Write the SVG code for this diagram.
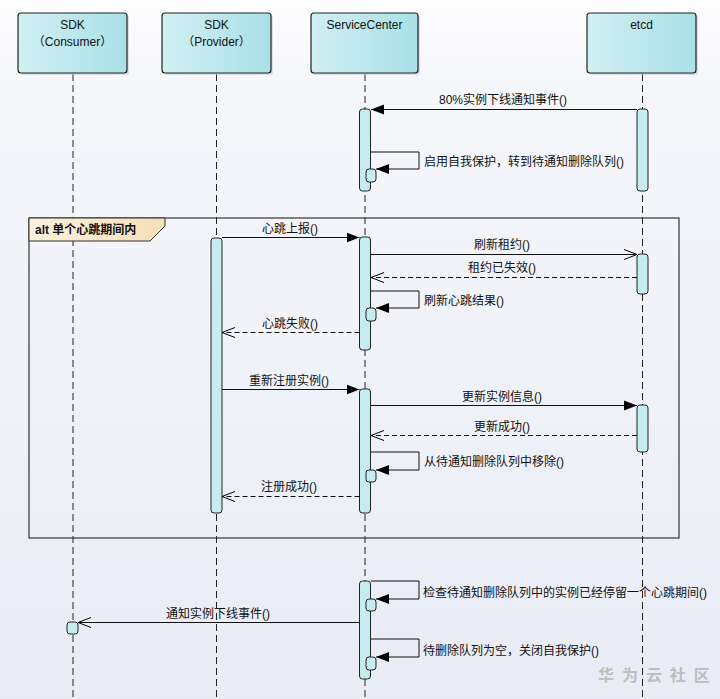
<svg xmlns="http://www.w3.org/2000/svg" width="720" height="699" viewBox="0 0 720 699">
<defs>
<linearGradient id="bg" x1="0" y1="0" x2="0" y2="1">
<stop offset="0" stop-color="#fdfdfe"/>
<stop offset="0.12" stop-color="#f6f7fb"/>
<stop offset="1" stop-color="#e9ecf5"/>
</linearGradient>
<linearGradient id="box" x1="0" y1="0" x2="1" y2="0">
<stop offset="0" stop-color="#d0eff2"/>
<stop offset="1" stop-color="#a9e0e8"/>
</linearGradient>
<linearGradient id="tag" x1="0" y1="0" x2="1" y2="0">
<stop offset="0" stop-color="#fbf1de"/>
<stop offset="1" stop-color="#f6dfb8"/>
</linearGradient>
<marker id="fill" markerWidth="14" markerHeight="12" refX="13" refY="6" orient="auto" markerUnits="userSpaceOnUse">
<path d="M0,1 L13,6 L0,11 Z" fill="#000"/>
</marker>
<marker id="open" markerWidth="14" markerHeight="12" refX="13" refY="6" orient="auto" markerUnits="userSpaceOnUse">
<path d="M0,1 L13,6 L0,11" fill="none" stroke="#000" stroke-width="1"/>
</marker>
</defs>
<style>
text{font-family:"Liberation Sans","Noto Sans CJK SC",sans-serif;font-size:12px;fill:#111}
.c{text-anchor:middle}
.node{fill:url(#box);stroke:#222;stroke-width:1.2}
.shadow{fill:#c8ccd6;opacity:0.6}
.life{stroke:#222;stroke-width:1;stroke-dasharray:7,4;fill:none}
.act{fill:#c6ecef;stroke:#222;stroke-width:1}
.msg{stroke:#111;stroke-width:1;fill:none}
.ret{stroke:#111;stroke-width:1;fill:none;stroke-dasharray:5,3}
.frame{fill:none;stroke:#333;stroke-width:1.2}
</style>
<rect x="0" y="0" width="720" height="699" fill="url(#bg)"/>

<g id="lifelines">
<line class="life" x1="73" y1="74" x2="73" y2="699"/>
<line class="life" x1="216.5" y1="74" x2="216.5" y2="699"/>
<line class="life" x1="365" y1="74" x2="365" y2="699"/>
<line class="life" x1="642.5" y1="74" x2="642.5" y2="699"/>
</g>

<g id="node-consumer">
<rect class="shadow" x="20" y="15" width="109" height="60" rx="3"/>
<rect class="node" x="18" y="13" width="109" height="60" rx="3"/>
<text class="c" x="72.5" y="29">SDK</text>
<text class="c" x="72.5" y="46">（Consumer）</text>
</g>
<g id="node-provider">
<rect class="shadow" x="164" y="15" width="109" height="60" rx="3"/>
<rect class="node" x="162" y="13" width="109" height="60" rx="3"/>
<text class="c" x="216.5" y="29">SDK</text>
<text class="c" x="216.5" y="46">（Provider）</text>
</g>
<g id="node-servicecenter">
<rect class="shadow" x="313" y="15" width="107" height="60" rx="3"/>
<rect class="node" x="311" y="13" width="107" height="60" rx="3"/>
<text class="c" x="364.5" y="29">ServiceCenter</text>
</g>
<g id="node-etcd">
<rect class="shadow" x="589" y="15" width="109" height="60" rx="3"/>
<rect class="node" x="587" y="13" width="109" height="60" rx="3"/>
<text class="c" x="641.5" y="29">etcd</text>
</g>

<g id="alt-frame">
<rect class="frame" x="29" y="218" width="650" height="320"/>
<path d="M29,218 L165,218 L165,226 L150,241 L29,241 Z" fill="url(#tag)" stroke="#333" stroke-width="1"/>
<text x="35" y="234" font-weight="bold">alt 单个心跳期间内</text>
</g>

<g id="activations">
<rect class="act" x="359.5" y="109" width="11" height="82" rx="3"/>
<rect class="act" x="637" y="109" width="11" height="82" rx="3"/>
<rect class="act" x="366" y="169" width="10" height="13" rx="3"/>

<rect class="act" x="211" y="238" width="11" height="275" rx="3"/>
<rect class="act" x="359.5" y="237" width="11" height="113" rx="3"/>
<rect class="act" x="637" y="254" width="11" height="40" rx="3"/>
<rect class="act" x="366" y="308" width="10" height="13" rx="3"/>

<rect class="act" x="359.5" y="389" width="11" height="124" rx="3"/>
<rect class="act" x="637" y="405" width="11" height="47" rx="3"/>
<rect class="act" x="366" y="470" width="10" height="12" rx="3"/>

<rect class="act" x="359.5" y="581" width="11" height="98" rx="3"/>
<rect class="act" x="366" y="599" width="10" height="12" rx="3"/>
<rect class="act" x="366" y="657" width="10" height="13" rx="3"/>
<rect class="act" x="67" y="622" width="11" height="12" rx="3"/>
</g>

<g id="connectors">
<line class="msg" x1="637" y1="109.5" x2="371" y2="109.5" marker-end="url(#fill)"/>
<polyline class="msg" points="371,152 419,152 419,169 376,169" marker-end="url(#fill)"/>

<line class="msg" x1="222" y1="237.5" x2="359.5" y2="237.5" marker-end="url(#fill)"/>
<line class="msg" x1="371" y1="254.5" x2="637" y2="254.5" marker-end="url(#open)"/>
<line class="ret" x1="637" y1="277.5" x2="371" y2="277.5" marker-end="url(#open)"/>
<polyline class="msg" points="371,291 419,291 419,308 376,308" marker-end="url(#fill)"/>
<line class="ret" x1="359.5" y1="332.5" x2="222" y2="332.5" marker-end="url(#open)"/>

<line class="msg" x1="222" y1="389.5" x2="359.5" y2="389.5" marker-end="url(#fill)"/>
<line class="msg" x1="371" y1="405.5" x2="637" y2="405.5" marker-end="url(#fill)"/>
<line class="ret" x1="637" y1="435.5" x2="371" y2="435.5" marker-end="url(#open)"/>
<polyline class="msg" points="371,452 419,452 419,470 376,470" marker-end="url(#fill)"/>
<line class="ret" x1="359.5" y1="496.5" x2="222" y2="496.5" marker-end="url(#open)"/>

<polyline class="msg" points="371,581 419,581 419,599 376,599" marker-end="url(#fill)"/>
<line class="msg" x1="359.5" y1="622.5" x2="78" y2="622.5" marker-end="url(#open)"/>
<polyline class="msg" points="371,639 419,639 419,657 376,657" marker-end="url(#fill)"/>
</g>

<g id="labels">
<text class="c" x="503" y="104">80%实例下线通知事件()</text>
<text x="424" y="166">启用自我保护，转到待通知删除队列()</text>
<text class="c" x="290" y="233">心跳上报()</text>
<text class="c" x="502" y="249">刷新租约()</text>
<text class="c" x="502" y="272">租约已失效()</text>
<text x="424" y="305">刷新心跳结果()</text>
<text class="c" x="290" y="328">心跳失败()</text>
<text class="c" x="289" y="385">重新注册实例()</text>
<text class="c" x="502" y="401">更新实例信息()</text>
<text class="c" x="502" y="431">更新成功()</text>
<text x="424" y="466">从待通知删除队列中移除()</text>
<text class="c" x="289" y="491">注册成功()</text>
<text x="423" y="597">检查待通知删除队列中的实例已经停留一个心跳期间()</text>
<text class="c" x="218" y="618">通知实例下线事件()</text>
<text x="423" y="655">待删除队列为空，关闭自我保护()</text>
</g>

<text x="598" y="681" style="font-size:16px;font-weight:bold;fill:#bdbdbd;word-spacing:3.5px">华 为 云 社 区</text>
</svg>
